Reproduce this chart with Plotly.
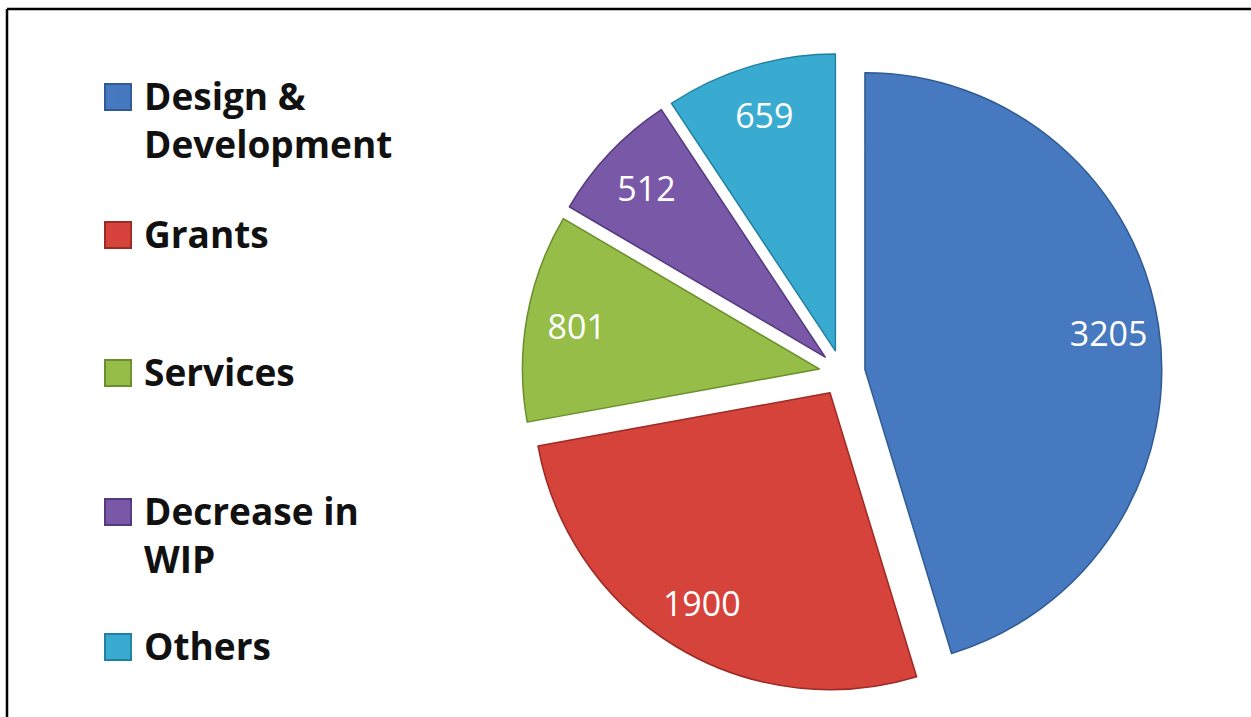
import plotly.graph_objects as go

# Revenue breakdown
categories = ["Design &<br>Development", "Grants", "Services", "Decrease in<br>WIP", "Others"]
values = [3205, 1900, 801, 512, 659]
colors = ["#4779c0", "#d6433b", "#95bd48", "#7a58a8", "#3aabd0"]
edge_colors = ["#2f5b92", "#9c2a25", "#6a8e2c", "#54397d", "#21809f"]

W, H = 1251, 717

# Legend layout (pixels): centre of each entry's first text line, swatch box
legend_line_px = [97, 235, 373, 512, 647]
legend_text_left_px = 104
swatch_x_px = (105, 131)
swatch_half = 13

pie_domain = dict(x=[0.4173, 0.9289], y=[0.0335, 0.926])
pull = [0.078] * len(values)

fig = go.Figure()

# Main pie: exploded slices
fig.add_trace(go.Pie(
    values=values,
    labels=categories,
    sort=False,
    direction="clockwise",
    rotation=0,
    pull=pull,
    marker=dict(colors=colors, line=dict(color=edge_colors, width=1.5)),
    textinfo="none",
    showlegend=False,
    hoverinfo="label+value",
    domain=pie_domain,
))

# Transparent ring on top carrying the value labels near the outer edge
fig.add_trace(go.Pie(
    values=values,
    labels=categories,
    sort=False,
    direction="clockwise",
    rotation=0,
    pull=pull,
    hole=0.66,
    marker=dict(colors=["rgba(0,0,0,0)"] * len(values), line=dict(width=0)),
    textinfo="value",
    textposition="inside",
    insidetextorientation="horizontal",
    textfont=dict(family="Open Sans", size=34, color="white"),
    showlegend=False,
    hoverinfo="skip",
    domain=pie_domain,
))

# Legend entries, each in its own legend so they can be spaced evenly
for i, (name, c, ec) in enumerate(zip(categories, colors, edge_colors)):
    key = "legend" if i == 0 else f"legend{i + 1}"
    fig.add_trace(go.Scatter(
        x=[None], y=[None], mode="markers", name=name,
        marker=dict(symbol="square", size=16, color=c, opacity=0),
        legend=key, showlegend=True, hoverinfo="skip",
    ))
    top_px = legend_line_px[i] - 32
    fig.update_layout({key: dict(
        x=legend_text_left_px / W, y=1 - top_px / H,
        xanchor="left", yanchor="top",
        valign="top", bgcolor="rgba(0,0,0,0)", borderwidth=0,
        itemwidth=30,
        font=dict(family="Open Sans", size=37, color="#111111", weight="bold"),
    )})
    # Legend swatch
    yc = legend_line_px[i]
    fig.add_shape(type="rect", xref="paper", yref="paper",
                  x0=swatch_x_px[0] / W, x1=swatch_x_px[1] / W,
                  y0=1 - (yc + swatch_half) / H, y1=1 - (yc - swatch_half) / H,
                  fillcolor=c, line=dict(color=ec, width=2))

# Frame line along the top and left edges
fig.add_shape(type="line", xref="paper", yref="paper",
              x0=7 / W, x1=1.0, y0=1 - 9 / H, y1=1 - 9 / H,
              line=dict(color="black", width=2.5))
fig.add_shape(type="line", xref="paper", yref="paper",
              x0=7 / W, x1=7 / W, y0=0.0, y1=1 - 9 / H,
              line=dict(color="black", width=2.5))

fig.update_layout(
    width=W, height=H,
    margin=dict(l=0, r=0, t=0, b=0),
    paper_bgcolor="white", plot_bgcolor="white",
    xaxis=dict(visible=False), yaxis=dict(visible=False),
)

fig.write_html("out.html")
